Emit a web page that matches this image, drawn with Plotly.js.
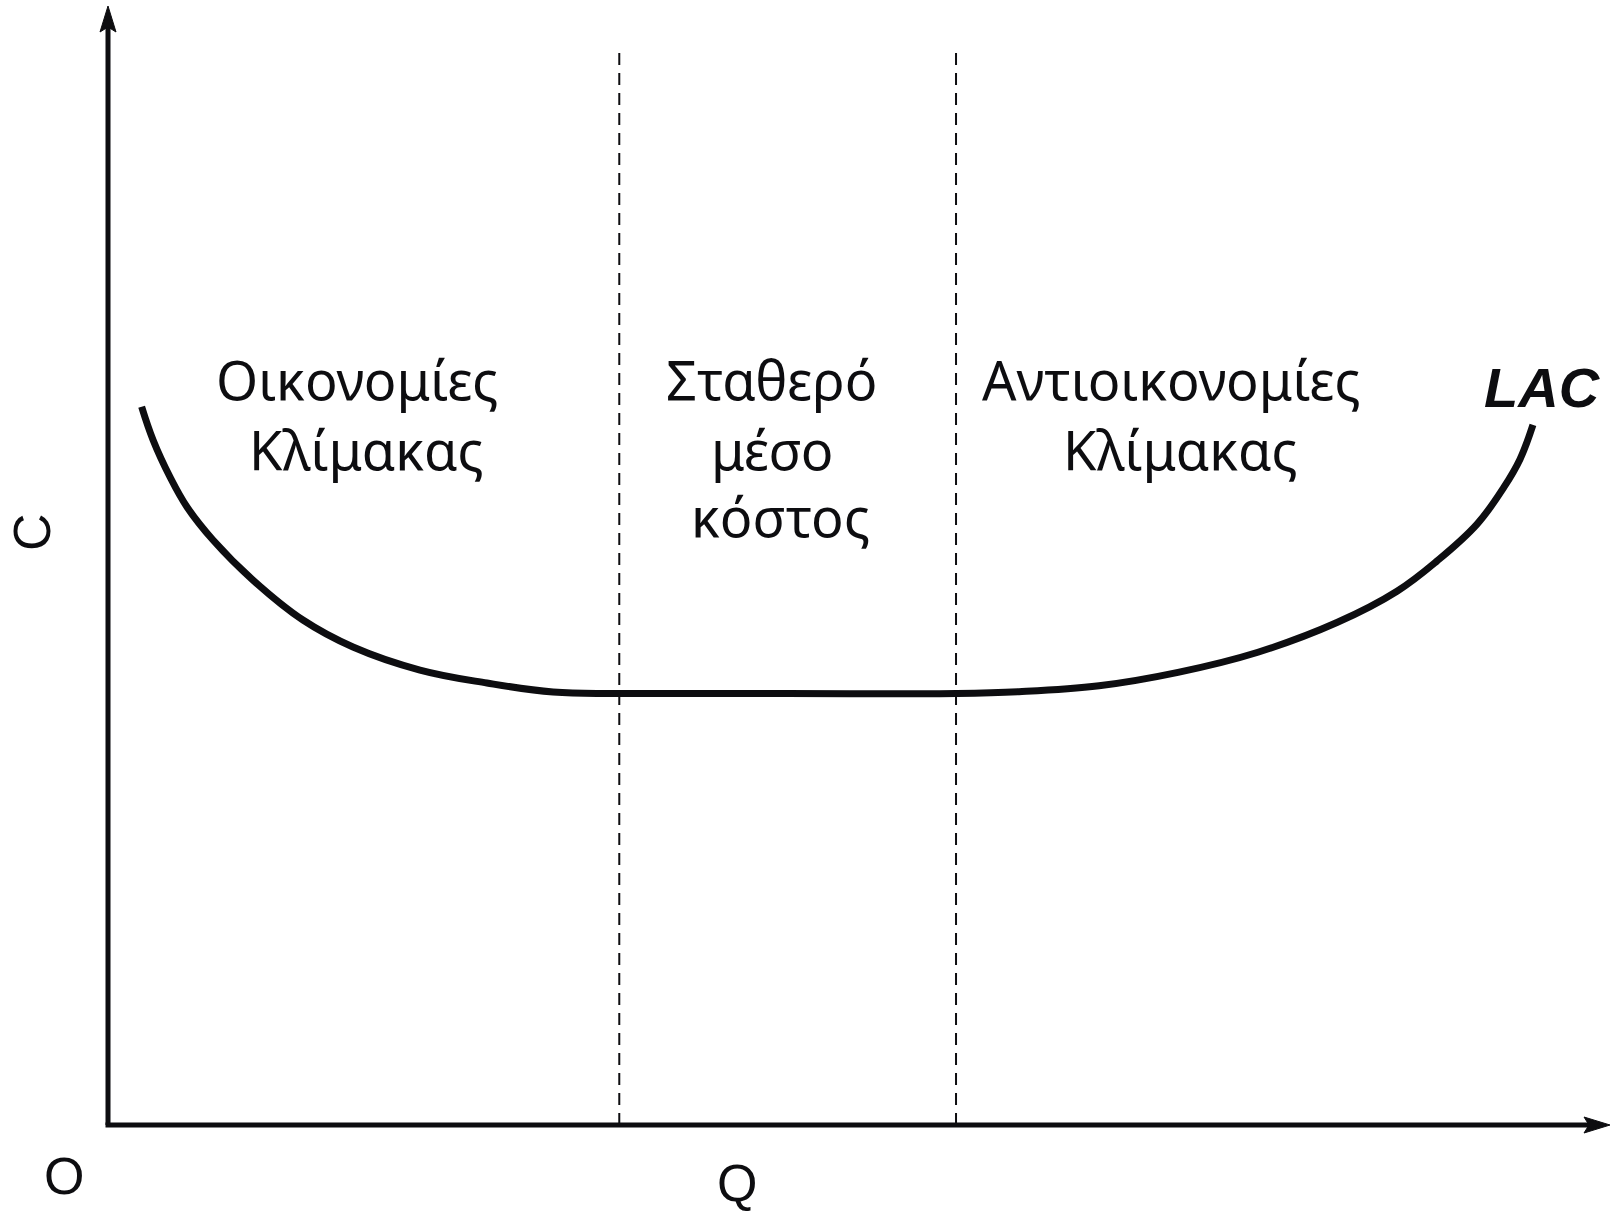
<!DOCTYPE html>
<html>
<head>
<meta charset="utf-8">
<script src="https://cdn.plot.ly/plotly-3.0.1.min.js"></script>
<style>
  html, body { margin: 0; padding: 0; background: #ffffff; }
  #chart { width: 1617px; height: 1214px; }
</style>
</head>
<body>
<div id="chart"></div>
<script>
// Long-run average cost curve (LAC): falling, flat, then rising
const lacQ = [0.224, 0.300, 0.413, 0.526, 0.699, 0.965, 1.298, 1.631, 2.077, 2.523, 2.963, 3.404,
              4.520, 5.646, 6.065, 6.598, 7.124, 7.656, 8.182, 8.582, 8.848, 9.115, 9.294, 9.401, 9.487];
const lacC = [6.419, 6.122, 5.791, 5.523, 5.228, 4.870, 4.513, 4.272, 4.066, 3.950, 3.869, 3.856,
              3.856, 3.856, 3.872, 3.925, 4.045, 4.225, 4.490, 4.770, 5.040, 5.370, 5.700, 5.950, 6.256];

// Output levels separating the three regions, and how high the dashed guides reach
const boundaryQ = [3.404, 5.646];
const boundaryTopC = 9.58;

// Region captions, one entry per line
const leftRegion = ["Οικονομίες", "Κλίμακας"];
const middleRegion = ["Σταθερό", "μέσο", "κόστος"];
const rightRegion = ["Αντιοικονομίες", "Κλίμακας"];
const curveName = "LAC";
const axisNames = { origin: "O", x: "Q", y: "C" };

const W = 1617, H = 1214;
const margin = { l: 108, r: 7, t: 6, b: 89 };
const xRange = [0, 10], yRange = [0, 10];
const plotW = W - margin.l - margin.r;
const plotH = H - margin.t - margin.b;

// data -> paper fractions (paper refs are not clipped to the plot area)
const qp = q => (q - xRange[0]) / (xRange[1] - xRange[0]);
const cp = c => (c - yRange[0]) / (yRange[1] - yRange[0]);

const ink = "#0d0d10";
const greekFont = { family: "Noto Sans, DejaVu Sans, sans-serif", size: 54, color: ink };
const latinFont = { family: "Liberation Sans, Arial, sans-serif", size: 52, color: ink };

const traces = [];

// Dashed region boundaries
boundaryQ.forEach(q => {
  traces.push({
    x: [q, q], y: [0, boundaryTopC],
    mode: "lines", type: "scatter", hoverinfo: "skip", showlegend: false,
    line: { color: ink, width: 2, dash: "12px,8px" }
  });
});

// LAC curve
traces.push({
  x: lacQ, y: lacC, name: curveName,
  mode: "lines", type: "scatter", showlegend: false,
  line: { color: ink, width: 7, shape: "spline", smoothing: 1.1 }
});

function label(text, q, c, font, extra) {
  return Object.assign({
    text: text, x: qp(q), y: cp(c), xref: "paper", yref: "paper",
    showarrow: false, xanchor: "center", yanchor: "middle", font: font
  }, extra || {});
}

const lineC = [6.665, 6.04, 5.44];
const annotations = [];
leftRegion.forEach((t, i) => annotations.push(label(t, [1.66, 1.72][i], lineC[i], greekFont)));
middleRegion.forEach((t, i) => annotations.push(label(t, [4.42, 4.42, 4.48][i], lineC[i], greekFont)));
rightRegion.forEach((t, i) => annotations.push(label(t, [7.08, 7.14][i], lineC[i], greekFont)));

annotations.push(label("<b><i>" + curveName + "</i></b>", 9.55, 6.59,
  { family: "Liberation Sans, Arial, sans-serif", size: 56, color: ink }));
annotations.push(label(axisNames.origin, -0.293, -0.46, latinFont));
// Q sits on the bottom edge of the page
annotations.push(Object.assign(label(axisNames.x, 4.19, 0, latinFont),
  { y: -margin.b / plotH, yanchor: "bottom" }));
annotations.push(label(axisNames.y, -0.506, 5.30, latinFont, { textangle: -90 }));

// Axes with arrowheads
const axisW = 5;
const headLen = 26, headHalf = 8, headNotch = 5;
const shapes = [
  { type: "line", xref: "paper", yref: "paper",
    x0: -axisW / 2 / plotW, y0: 0, x1: 1 - (headLen - headNotch) / plotW, y1: 0,
    line: { color: ink, width: axisW } },
  { type: "line", xref: "paper", yref: "paper",
    x0: 0, y0: 0, x1: 0, y1: 1 - (headLen - headNotch) / plotH,
    line: { color: ink, width: axisW } },
  { type: "path", xref: "paper", yref: "paper",
    xsizemode: "pixel", ysizemode: "pixel", xanchor: 1, yanchor: 0,
    path: `M0,0 L${-headLen},${headHalf} L${-(headLen - headNotch)},0 L${-headLen},${-headHalf} Z`,
    fillcolor: ink, line: { color: ink, width: 1 } },
  { type: "path", xref: "paper", yref: "paper",
    xsizemode: "pixel", ysizemode: "pixel", xanchor: 0, yanchor: 1,
    path: `M0,0 L${-headHalf},${-headLen} L0,${-(headLen - headNotch)} L${headHalf},${-headLen} Z`,
    fillcolor: ink, line: { color: ink, width: 1 } }
];

const hidden = {
  showgrid: false, zeroline: false, showline: false, showticklabels: false,
  ticks: "", fixedrange: true
};

const layout = {
  width: W, height: H, margin: margin,
  paper_bgcolor: "#ffffff", plot_bgcolor: "#ffffff",
  showlegend: false,
  xaxis: Object.assign({ range: xRange }, hidden),
  yaxis: Object.assign({ range: yRange }, hidden),
  shapes: shapes,
  annotations: annotations
};

Plotly.newPlot("chart", traces, layout, { displayModeBar: false, staticPlot: true });
</script>
</body>
</html>
